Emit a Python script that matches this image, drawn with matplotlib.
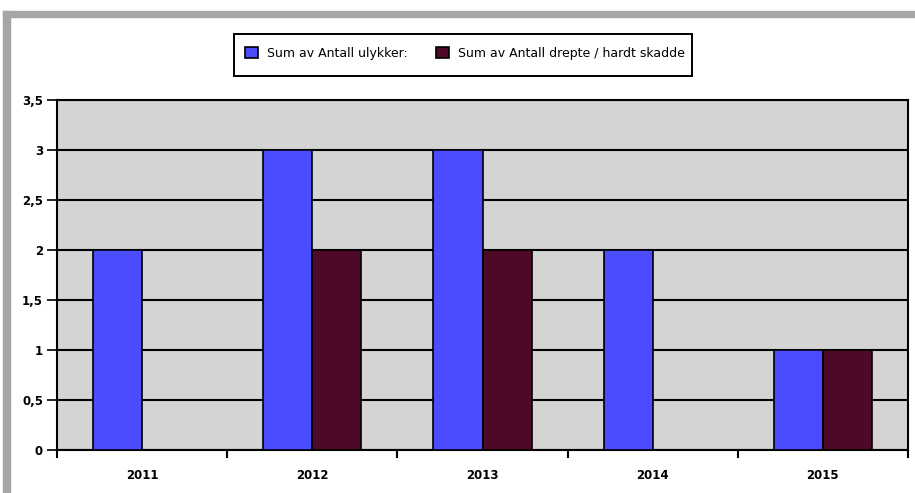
import matplotlib.pyplot as plt
import matplotlib.patches as mpatches
import numpy as np

# data
years = ["2011", "2012", "2013", "2014", "2015"]
ulykker = [2, 3, 3, 2, 1]
drepte = [0, 2, 2, 0, 1]
y_ticks = [0, 0.5, 1, 1.5, 2, 2.5, 3, 3.5]
y_labels = ["0", "0,5", "1", "1,5", "2", "2,5", "3", "3,5"]

W, H = 915, 493
fig = plt.figure(figsize=(W / 100, H / 100), dpi=100)
fig.patch.set_facecolor("white")

# grey frame (top and left bands)
fig.patches.append(mpatches.Rectangle((3 / W, 1 - 17 / H), 1 - 3 / W, 6 / H,
                                      transform=fig.transFigure, color="#a6a6a6", zorder=0))
fig.patches.append(mpatches.Rectangle((3 / W, 0), 7 / W, 1 - 11 / H,
                                      transform=fig.transFigure, color="#a6a6a6", zorder=0))

ax = fig.add_axes([57 / W, 1 - 450 / H, (908 - 57) / W, (450 - 100) / H])
ax.set_facecolor("#d4d4d4")

x = np.arange(len(years))
bw = 49 / 170
ax.bar(x - bw / 2, ulykker, bw, color="#4b4bff", edgecolor="black", lw=1.2,
       label="Sum av Antall ulykker:", zorder=3)
ax.bar(x + bw / 2, drepte, bw, color="#4e0828", edgecolor="black", lw=1.2,
       label="Sum av Antall drepte / hardt skadde", zorder=3)

ax.set_xlim(-0.5, len(years) - 0.5)
ax.set_ylim(0, 3.5)
ax.set_yticks(y_ticks)
ax.set_yticklabels(y_labels, fontsize=8.5, fontweight="bold")
ax.set_xticks(x)
ax.set_xticklabels(years, fontsize=8.5, fontweight="bold")
ax.tick_params(axis="x", length=0, pad=14)
ax.set_xticks(np.arange(-0.5, len(years)), minor=True)
ax.tick_params(axis="x", which="minor", length=6, width=1.5, direction="out")
ax.tick_params(axis="y", length=7, width=1.2, direction="out", pad=3)
ax.yaxis.grid(True, color="black", lw=1.5, zorder=1)
ax.set_axisbelow(True)
for s in ax.spines.values():
    s.set_linewidth(1.5)

# legend box drawn by hand so the padding matches
fig.patches.append(mpatches.Rectangle((234 / W, 1 - 76 / H), (692 - 234) / W, 42 / H,
                                      transform=fig.transFigure, facecolor="white",
                                      edgecolor="black", lw=1.4, zorder=1))
leg = fig.legend(loc="center", bbox_to_anchor=(465 / W, 1 - 53 / H), ncol=2,
                 fontsize=9, frameon=False,
                 handlelength=1.0, handleheight=1.0, columnspacing=2.3,
                 borderpad=0, handletextpad=0.72)
leg.set_zorder(2)

fig.savefig("out.png", dpi=100)
